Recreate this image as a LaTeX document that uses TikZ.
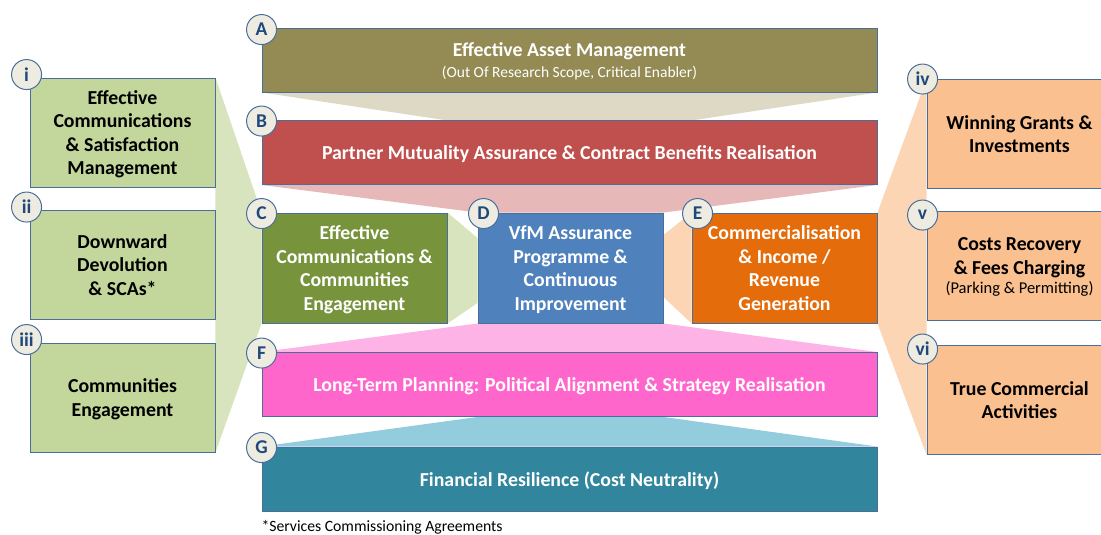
\documentclass[tikz,border=0pt]{standalone}
\usepackage{fontspec}
\setmainfont{Carlito}
\usetikzlibrary{positioning, backgrounds, calc}

\definecolor{assetcol}{HTML}{948A54}
\definecolor{assetfan}{HTML}{DDD9C4}
\definecolor{partnercol}{HTML}{C0504D}
\definecolor{partnerfan}{HTML}{E6B9B8}
\definecolor{commscol}{HTML}{77933C}
\definecolor{commsfan}{HTML}{D7E4BD}
\definecolor{vfmcol}{HTML}{4F81BD}
\definecolor{incomecol}{HTML}{E46C0A}
\definecolor{incomefan}{HTML}{FCD5B5}
\definecolor{planningcol}{HTML}{FF66CC}
\definecolor{planningfan}{HTML}{FDB3E6}
\definecolor{resilcol}{HTML}{31859C}
\definecolor{resilfan}{HTML}{93CDDD}
\definecolor{leftcol}{HTML}{C3D69B}
\definecolor{rightcol}{HTML}{FAC090}
\definecolor{tagfill}{HTML}{EEECE1}
\definecolor{tagtext}{HTML}{1F497D}
\definecolor{edgecol}{HTML}{4A6E9C}

\begin{document}
\begin{tikzpicture}[x=1pt, y=-1pt,
  bar/.style={rectangle, draw=edgecol, line width=0.9pt, minimum width=615pt, minimum height=64pt, align=center, text=white, text depth=0pt, font=\fontsize{19.8}{23.5}\selectfont\bfseries},
  block/.style={rectangle, draw=edgecol, line width=0.9pt, minimum width=185pt, minimum height=110pt, align=center, text=white, text depth=0pt, inner sep=1pt, font=\fontsize{19.8}{23.5}\selectfont\bfseries},
  side/.style={block, text=black, minimum height=109pt},
  tag/.style={circle, draw=edgecol, line width=1pt, fill=tagfill, text=tagtext, minimum size=30pt, inner sep=0pt, font=\fontsize{19.5}{19.5}\selectfont\bfseries}]
\useasboundingbox (0,0) rectangle (1101,535);
\clip (0,0) rectangle (1101,535);

\node[bar, fill=assetcol] (asset) at (569.5,60) {Effective Asset Management\\[-3pt]{\fontsize{15.5}{17}\selectfont\mdseries (Out Of Research Scope, Critical Enabler)}};
\node[bar, fill=partnercol] (partner) at (569.5,152.5) {Partner Mutuality Assurance \& Contract Benefits Realisation};
\node[block, fill=commscol] (comms) at (354.5,268) {Effective\\Communications \&\\Communities\\Engagement};
\node[block, fill=vfmcol] (vfm) at (570.5,268) {VfM Assurance\\Programme \&\\Continuous\\Improvement};
\node[block, fill=incomecol] (income) at (784.5,268) {Commercialisation\\\& Income /\\Revenue\\Generation};
\node[bar, fill=planningcol] (planning) at (569.5,384.5) {Long-Term Planning: Political Alignment \& Strategy Realisation};
\node[bar, fill=resilcol] (resilience) at (569.5,479) {Financial Resilience (Cost Neutrality)};

\node[side, fill=leftcol] (satisfaction) at (122.5,132.5) {Effective\\Communications\\\& Satisfaction\\Management};
\node[side, fill=leftcol] (devolution) at (122.5,265) {Downward\\Devolution\\\& SCAs*};
\node[side, fill=leftcol] (engagement) at (122.5,397.5) {Communities\\Engagement};
\node[side, fill=rightcol] (grants) at (1019.5,134) {Winning Grants \&\\Investments};
\node[side, fill=rightcol] (recovery) at (1019.5,266) {Costs Recovery\\\& Fees Charging\\[-4pt]{\fontsize{16.5}{18}\selectfont\mdseries (Parking \& Permitting)}};
\node[side, fill=rightcol] (activities) at (1019.5,400) {True Commercial\\Activities};

\begin{scope}[on background layer]
\fill[assetfan] (asset.south west) -- (asset.south east) -- ($(partner.north)+(125,0)$) -- ($(partner.north)+(-125,0)$) -- cycle;
\fill[partnerfan] (partner.south west) -- (partner.south east) -- (vfm.north east) -- (vfm.north west) -- cycle;
\fill[commsfan] (comms.north east) -- ($(vfm.west)+(0,-30)$) -- ($(vfm.west)+(0,35)$) -- (comms.south east) -- cycle;
\fill[incomefan] (income.north west) -- ($(vfm.east)+(0,-33)$) -- ($(vfm.east)+(0,29)$) -- (income.south west) -- cycle;
\fill[planningfan] (vfm.south west) -- (vfm.south east) -- (planning.north east) -- (planning.north west) -- cycle;
\fill[resilfan] (vfm.west |- planning.south) -- (vfm.east |- planning.south) -- (resilience.north east) -- (resilience.north west) -- cycle;
\fill[commsfan] (satisfaction.north east) -- (comms.north west) -- (comms.south west) -- (engagement.south east) -- cycle;
\fill[incomefan] (income.north east) -- (grants.north west) -- (activities.south west) -- (income.south east) -- cycle;
\end{scope}

\node[tag, yshift=-2pt] (tagA) at (asset.north west) {A};
\node[tag, yshift=-1pt] (tagB) at (partner.north west) {B};
\node[tag, yshift=-1pt] (tagC) at (comms.north west) {C};
\node[tag, xshift=6pt, yshift=-1pt] (tagD) at (vfm.north west) {D};
\node[tag, xshift=6pt, yshift=-1pt] (tagE) at (income.north west) {E};
\node[tag, yshift=-1pt] (tagF) at (planning.north west) {F};
\node[tag, yshift=-1pt] (tagG) at (resilience.north west) {G};
\node[tag, xshift=-3pt, yshift=3pt] (tagi) at (satisfaction.north west) {i};
\node[tag, xshift=-3pt, yshift=3pt] (tagii) at (devolution.north west) {ii};
\node[tag, xshift=-3pt, yshift=3pt] (tagiii) at (engagement.north west) {iii};
\node[tag, xshift=-4pt] (tagiv) at (grants.north west) {iv};
\node[tag, xshift=-4pt, yshift=-4pt] (tagv) at (recovery.north west) {v};
\node[tag, xshift=-4pt, yshift=-4pt] (tagvi) at (activities.north west) {vi};

\node[anchor=west, font=\fontsize{15.7}{17}\selectfont] (note) at (258,527) {*Services Commissioning Agreements};
\end{tikzpicture}
\end{document}
